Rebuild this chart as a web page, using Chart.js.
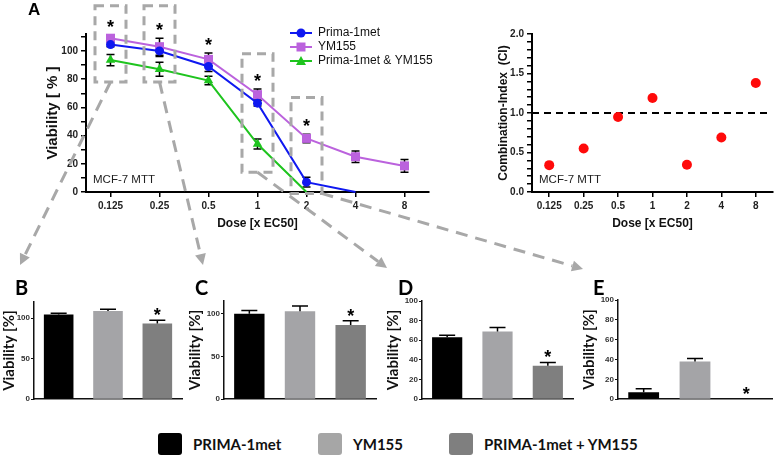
<!DOCTYPE html>
<html>
<head>
<meta charset="utf-8">
<script src="https://cdn.jsdelivr.net/npm/chart.js@4.4.1/dist/chart.umd.min.js"></script>
<style>
  body { margin: 0; background: #fff; }
  #page { position: relative; width: 778px; height: 456px; overflow: hidden; font-family: 'Liberation Sans', Arial, sans-serif; }
  .panel { position: absolute; }
  .letter { position: absolute; font-weight: bold; line-height: 1; color: #000; }
  .letter.a { font-family: 'Liberation Sans', Arial, sans-serif; font-size: 17px; }
  .letter.sub { font-family: Lato, sans-serif; font-size: 20px; }
  .legend-item { position: absolute; top: 433px; height: 22px; display: flex; align-items: center; font-family: Lato, sans-serif; font-weight: bold; font-size: 15px; color: #111; }
  .legend-item span.sw { width: 24px; height: 22px; border-radius: 3px; margin-right: 11px; }
  #overlay { position: absolute; left: 0; top: 0; pointer-events: none; }
</style>
</head>
<body>
<div id="page">
  <div class="panel" style="left:0;top:0"><canvas id="lineChart" width="440" height="235"></canvas></div>
  <div class="panel" style="left:440px;top:0"><canvas id="ciChart" width="338" height="235"></canvas></div>
  <div class="panel" style="left:0;top:290px"><canvas id="barB" width="190" height="115"></canvas></div>
  <div class="panel" style="left:186px;top:290px"><canvas id="barC" width="194" height="115"></canvas></div>
  <div class="panel" style="left:384px;top:290px"><canvas id="barD" width="194" height="115"></canvas></div>
  <div class="panel" style="left:580px;top:290px"><canvas id="barE" width="196" height="115"></canvas></div>
  <div class="letter a" style="left:28px;top:1px">A</div>
  <div class="letter sub" style="left:15px;top:277px">B</div>
  <div class="letter sub" style="left:195px;top:277px">C</div>
  <div class="letter sub" style="left:398px;top:277px">D</div>
  <div class="letter sub" style="left:593px;top:277px">E</div>
  <div id="legendBottom"></div>
  <canvas id="overlay" width="778" height="456"></canvas>
</div>
<script>
// dosis (x EC50)
const doses = ['0.125', '0.25', '0.5', '1', '2', '4', '8'];

// viabilidad [%] por dosis
const prima = [104.5, 100, 89, 63, 7, 0, null];
const primaErr = [1.5, 4, 3.5, 2, 3.5, 0, null];
const ym155 = [109, 103, 94, 69, 38, 25, 18.5];
const ym155Err = [2, 6, 4.5, 4, 3, 4, 4.5];
const combo = [93.5, 87, 79, 34, 0, null, null];
const comboErr = [4, 5, 3, 3.5, 0, null, null];

// dosis con diferencia significativa (*)
const significant = [0, 1, 2, 3, 4];

// combination index
const ciValues = [0.34, 0.55, 0.95, 1.19, 0.345, 0.69, 1.38];
const ciThreshold = 1.0;

const yTicksA = [0, 10, 20, 30, 40, 50, 60, 70, 80, 90, 100, 110];
const yTicksCI = [0, 0.1, 0.2, 0.3, 0.4, 0.5, 0.6, 0.7, 0.8, 0.9, 1, 1.1, 1.2, 1.3, 1.4, 1.5, 1.6, 1.7, 1.8, 1.9, 2];

const groupNames = ['PRIMA-1met', 'YM155', 'PRIMA-1met + YM155'];
const groupColors = ['#000000', '#a4a4a7', '#7f7f7f'];
const legendColors = ['#000000', '#a6a6a6', '#7f7f7f'];

// paneles B-E: dosis mostrada, eje y
const barPanels = [
  { id: 'barB', dose: 0, max: 120, ticks: [0, 50, 100], axisW: 34, pad: { top: 12, right: 8 } },
  { id: 'barC', dose: 1, max: 115, ticks: [0, 50, 100], axisW: 38, pad: { top: 11, right: 4 } },
  { id: 'barD', dose: 3, max: 100, ticks: [0, 20, 40, 60, 80, 100], axisW: 38, pad: { top: 11, right: 5 } },
  { id: 'barE', dose: 4, max: 100, ticks: [0, 20, 40, 60, 80, 100], axisW: 38, pad: { top: 10, right: 4 } }
];

const BLUE = '#0f18f0', PURPLE = '#bb62dd', GREEN = '#1ec41e';
const SANS = "'Liberation Sans', Arial, sans-serif";
const tickFont = { family: SANS, weight: 'bold', size: 10 };

// barras de error (simetricas) sobre el grafico de lineas
const lineErrorBars = {
  id: 'lineErrorBars',
  beforeDatasetsDraw(chart) {
    const { ctx, scales: { x, y } } = chart;
    ctx.save();
    ctx.strokeStyle = '#000';
    ctx.lineWidth = 1.5;
    chart.data.datasets.forEach(ds => {
      ds.data.forEach((v, i) => {
        const e = ds.err[i];
        if (v == null || !e) return;
        const px = x.getPixelForValue(i);
        const y1 = y.getPixelForValue(v + e), y2 = y.getPixelForValue(v - e);
        ctx.beginPath();
        ctx.moveTo(px, y1); ctx.lineTo(px, y2);
        ctx.moveTo(px - 4, y1); ctx.lineTo(px + 4, y1);
        ctx.moveTo(px - 4, y2); ctx.lineTo(px + 4, y2);
        ctx.stroke();
      });
    });
    ctx.restore();
  },
  afterDatasetsDraw(chart) {
    const { ctx, scales: { x, y } } = chart;
    // asteriscos
    ctx.save();
    ctx.fillStyle = '#000';
    ctx.font = 'bold 18px ' + SANS;
    ctx.textAlign = 'center';
    ctx.textBaseline = 'alphabetic';
    significant.forEach(i => {
      let top = 0;
      chart.data.datasets.forEach(ds => {
        if (ds.data[i] != null) top = Math.max(top, ds.data[i] + (ds.err[i] || 0));
      });
      ctx.fillText('*', x.getPixelForValue(i), y.getPixelForValue(top) - 2);
    });
    ctx.restore();
  }
};

// leyenda interna del panel A
const lineLegend = {
  id: 'lineLegend',
  afterDraw(chart) {
    const ctx = chart.ctx;
    ctx.save();
    ctx.font = '12px ' + SANS;
    ctx.textBaseline = 'middle';
    chart.data.datasets.forEach((ds, k) => {
      const yy = 33 + k * 14;
      ctx.strokeStyle = ds.borderColor;
      ctx.fillStyle = ds.borderColor;
      ctx.lineWidth = 2;
      ctx.beginPath(); ctx.moveTo(290, yy); ctx.lineTo(312, yy); ctx.stroke();
      ctx.beginPath();
      if (ds.pointStyle === 'circle') ctx.arc(301, yy, 4.5, 0, Math.PI * 2);
      else if (ds.pointStyle === 'rect') ctx.rect(296.5, yy - 4.5, 9, 9);
      else { ctx.moveTo(301, yy - 5); ctx.lineTo(306, yy + 4); ctx.lineTo(296, yy + 4); ctx.closePath(); }
      ctx.fill();
      ctx.fillStyle = '#111';
      ctx.fillText(ds.label, 318, yy);
    });
    ctx.restore();
  }
};

const cellLabel = {
  id: 'cellLabel',
  afterDraw(chart) {
    const { ctx, chartArea } = chart;
    ctx.save();
    ctx.font = '11.5px ' + SANS;
    ctx.fillStyle = '#222';
    ctx.textBaseline = 'middle';
    ctx.fillText('MCF-7 MTT', chartArea.left + 7, chartArea.bottom - 12);
    ctx.restore();
  }
};

const thresholdLine = {
  id: 'thresholdLine',
  beforeDatasetsDraw(chart) {
    const { ctx, chartArea, scales: { y } } = chart;
    const py = y.getPixelForValue(ciThreshold);
    ctx.save();
    ctx.strokeStyle = '#000';
    ctx.lineWidth = 2;
    ctx.setLineDash([7, 5]);
    ctx.beginPath(); ctx.moveTo(chartArea.left, py); ctx.lineTo(chartArea.right - 4, py); ctx.stroke();
    ctx.restore();
  }
};

function axisCommon() {
  return {
    grid: { drawOnChartArea: false, tickLength: 5, color: '#000', lineWidth: 1.5 },
    border: { color: '#000', width: 2 },
    ticks: { font: tickFont, color: '#222' }
  };
}

function doseAxis() {
  return Object.assign(axisCommon(), {
    offset: true,
    ticks: { font: tickFont, color: '#222', padding: 3 },
    title: { display: true, text: 'Dose [x EC50]', color: '#111', font: { family: SANS, weight: 'bold', size: 12 }, padding: { top: 0, bottom: 4 } },
    afterFit(s) { s.height = 43; }
  });
}

const chartA = new Chart(document.getElementById('lineChart'), {
  type: 'line',
  data: {
    labels: doses,
    datasets: [
      { label: 'Prima-1met', data: prima, err: primaErr, borderColor: BLUE, backgroundColor: BLUE,
        pointStyle: 'circle', pointRadius: [4.5, 4.5, 4.5, 4.5, 4.5, 0, 0] },
      { label: 'YM155', data: ym155, err: ym155Err, borderColor: PURPLE, backgroundColor: PURPLE,
        pointStyle: 'rect', pointRadius: 6.4 },
      { label: 'Prima-1met & YM155', data: combo, err: comboErr, borderColor: GREEN, backgroundColor: GREEN,
        pointStyle: 'triangle', pointRadius: [5.5, 5.5, 5.5, 5.5, 0, 0, 0] }
    ]
  },
  options: {
    responsive: false,
    animation: false,
    clip: false,
    datasets: { line: { borderWidth: 2, pointBorderWidth: 0, spanGaps: false } },
    layout: { padding: { left: 44, top: 34, right: 11, bottom: 0 } },
    plugins: { legend: { display: false }, tooltip: { enabled: false } },
    scales: {
      x: doseAxis(),
      y: Object.assign(axisCommon(), {
        min: 0, max: 112,
        afterBuildTicks(s) { s.ticks = yTicksA.map(v => ({ value: v })); },
        ticks: { font: tickFont, color: '#222', padding: 3, autoSkip: false, callback: v => (v % 20 === 0 ? v : '') },
        title: { display: true, text: 'Viability [ % ]', color: '#111', font: { family: SANS, weight: 'bold', size: 15 }, padding: 0 },
        afterFit(s) { s.width = 42; }
      })
    }
  },
  plugins: [lineErrorBars, lineLegend, cellLabel]
});

const chartCI = new Chart(document.getElementById('ciChart'), {
  type: 'line',
  data: {
    labels: doses,
    datasets: [{ label: 'CI', data: ciValues, showLine: false, pointRadius: 5, pointBorderWidth: 0,
      pointBackgroundColor: '#ff0a0a', borderColor: '#ff0a0a' }]
  },
  options: {
    responsive: false,
    animation: false,
    clip: false,
    layout: { padding: { left: 56, top: 34, right: 1, bottom: 0 } },
    plugins: { legend: { display: false }, tooltip: { enabled: false } },
    scales: {
      x: doseAxis(),
      y: Object.assign(axisCommon(), {
        min: 0, max: 2,
        afterBuildTicks(s) { s.ticks = yTicksCI.map(v => ({ value: v })); },
        ticks: { font: tickFont, color: '#222', padding: 3, autoSkip: false,
          callback: v => (Math.abs(v * 2 - Math.round(v * 2)) < 1e-6 ? v.toFixed(1) : '') },
        title: { display: true, text: 'Combination-Index  (CI)', color: '#111', font: { family: SANS, weight: 'bold', size: 12 }, padding: 0 },
        afterFit(s) { s.width = 36; }
      })
    }
  },
  plugins: [thresholdLine, cellLabel]
});

// barras de error (solo hacia arriba) + asterisco
const barErrorBars = {
  id: 'barErrorBars',
  afterDatasetsDraw(chart) {
    const { ctx, scales: { x, y } } = chart;
    const ds = chart.data.datasets[0];
    ctx.save();
    ctx.strokeStyle = '#000';
    ctx.lineWidth = 1.5;
    ds.data.forEach((v, i) => {
      const e = ds.err[i];
      if (!e) return;
      const px = x.getPixelForValue(i);
      const y0 = y.getPixelForValue(v), y1 = y.getPixelForValue(v + e);
      ctx.beginPath();
      ctx.moveTo(px, y0); ctx.lineTo(px, y1);
      ctx.moveTo(px - 8, y1); ctx.lineTo(px + 8, y1);
      ctx.stroke();
    });
    const last = ds.data.length - 1;
    ctx.fillStyle = '#000';
    ctx.font = 'bold 18px ' + SANS;
    ctx.textAlign = 'center';
    ctx.fillText('*', x.getPixelForValue(last), y.getPixelForValue(ds.data[last] + (ds.err[last] || 0)) + 1);
    ctx.restore();
  }
};

const barCharts = barPanels.map(p => {
  const vals = [prima[p.dose], ym155[p.dose], combo[p.dose]];
  const errs = [primaErr[p.dose], ym155Err[p.dose], comboErr[p.dose]];
  return new Chart(document.getElementById(p.id), {
    type: 'bar',
    data: {
      labels: groupNames,
      datasets: [{ data: vals, err: errs, backgroundColor: groupColors, borderWidth: 0,
        barPercentage: 0.6, categoryPercentage: 1 }]
    },
    options: {
      responsive: false,
      animation: false,
      layout: { padding: { left: 0, top: p.pad.top, right: p.pad.right, bottom: 0 } },
      plugins: { legend: { display: false }, tooltip: { enabled: false } },
      scales: {
        x: {
          ticks: { display: false },
          grid: { display: false },
          border: { color: '#111', width: 1.5 },
          afterFit(s) { s.height = 4; }
        },
        y: {
          min: 0, max: p.max,
          afterBuildTicks(s) { s.ticks = p.ticks.map(v => ({ value: v })); },
          grid: { drawOnChartArea: false, tickLength: 3, color: '#111', lineWidth: 1 },
          border: { color: '#111', width: 1.5 },
          ticks: { font: { family: SANS, weight: 'bold', size: 8 }, color: '#333', padding: 1, autoSkip: false },
          title: { display: true, text: 'Viability [%]', color: '#111', font: { family: 'Lato, sans-serif', weight: 'bold', size: 15 }, padding: 0 },
          afterFit(s) { s.width = p.axisW; }
        }
      }
    },
    plugins: [barErrorBars]
  });
});

// leyenda inferior
const legendLeft = [158, 318, 449];
const legendBox = document.getElementById('legendBottom');
groupNames.forEach((name, i) => {
  const item = document.createElement('div');
  item.className = 'legend-item';
  item.style.left = legendLeft[i] + 'px';
  item.innerHTML = '<span class="sw" style="background:' + legendColors[i] + '"></span>' + name;
  legendBox.appendChild(item);
});

// recuadros discontinuos y flechas de A hacia B-E
const zoomBoxes = [
  { dose: 0, top: 132, bottom: 78, anchor: 'center', panel: 0, tip: [-14, -37] },
  { dose: 1, top: 132, bottom: 78, anchor: 'center', panel: 1, tip: [-21, -36] },
  { dose: 3, top: 98, bottom: 14, anchor: 'center', panel: 2, tip: [-35, -33] },
  { dose: 4, top: 67, bottom: -1, anchor: 'right', panel: 3, tip: [-35, -31] }
];

function drawOverlay() {
  const ov = document.getElementById('overlay');
  const ctx = ov.getContext('2d');
  const pageRect = document.getElementById('page').getBoundingClientRect();
  const off = c => {
    const r = c.canvas.getBoundingClientRect();
    return [r.left - pageRect.left, r.top - pageRect.top];
  };
  const [ax, ay] = off(chartA);
  const xs = chartA.scales.x, ys = chartA.scales.y;
  ctx.strokeStyle = '#a8a8a8';
  ctx.fillStyle = '#a8a8a8';
  ctx.lineWidth = 3;
  zoomBoxes.forEach(b => {
    const cx = ax + xs.getPixelForValue(b.dose);
    const t = ay + ys.getPixelForValue(b.top), bt = ay + ys.getPixelForValue(b.bottom);
    ctx.setLineDash([9, 6]);
    ctx.strokeRect(cx - 15.5, t, 31, bt - t);
    const sx = b.anchor === 'right' ? cx + 15 : cx;
    const sy = bt;
    const target = barCharts[b.panel];
    const [tx0, ty0] = off(target);
    const ex = tx0 + target.chartArea.left + b.tip[0];
    const ey = ty0 + target.chartArea.top + b.tip[1];
    const ang = Math.atan2(ey - sy, ex - sx);
    const hl = 11;
    ctx.setLineDash([12, 8]);
    ctx.beginPath();
    ctx.moveTo(sx, sy);
    ctx.lineTo(ex - hl * Math.cos(ang), ey - hl * Math.sin(ang));
    ctx.stroke();
    ctx.setLineDash([]);
    ctx.beginPath();
    ctx.moveTo(ex, ey);
    ctx.lineTo(ex - hl * Math.cos(ang) + 5.5 * Math.sin(ang), ey - hl * Math.sin(ang) - 5.5 * Math.cos(ang));
    ctx.lineTo(ex - hl * Math.cos(ang) - 5.5 * Math.sin(ang), ey - hl * Math.sin(ang) + 5.5 * Math.cos(ang));
    ctx.closePath();
    ctx.fill();
  });
}
drawOverlay();
</script>
</body>
</html>
